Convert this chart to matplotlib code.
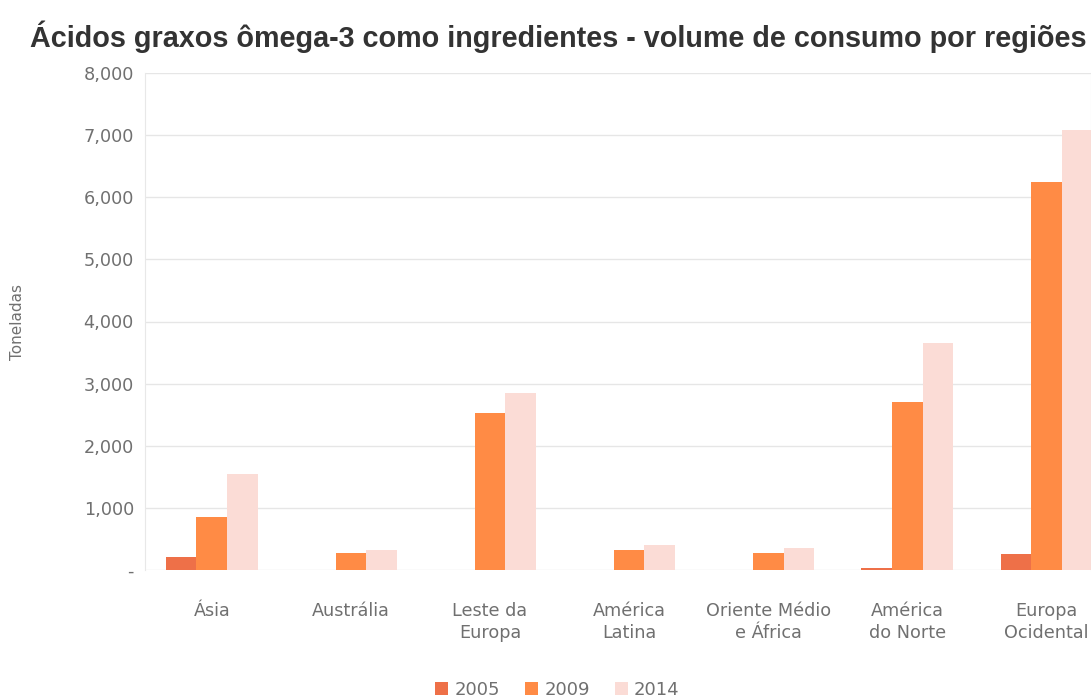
import matplotlib.pyplot as plt
import numpy as np
from matplotlib.ticker import FuncFormatter

regioes = ['Ásia', 'Austrália', 'Leste da\nEuropa', 'América\nLatina',
           'Oriente Médio\ne África', 'América\ndo Norte', 'Europa\nOcidental']
anos = ['2005', '2009', '2014']
v2005 = [210, 0, 0, 0, 0, 40, 250]
v2009 = [850, 270, 2530, 320, 280, 2700, 6240]
v2014 = [1545, 320, 2850, 400, 360, 3660, 7090]
yticks = [0, 1000, 2000, 3000, 4000, 5000, 6000, 7000, 8000]

cores = ['#EE7048', '#FF8B45', '#FBDCD6']
cinza = '#707070'

plt.rcParams['font.family'] = ['DejaVu Sans']

fig = plt.figure(figsize=(10.91, 7.0), dpi=100)
ax = fig.add_axes([145 / 1091, 1 - 570 / 700, (1091 - 145) / 1091, (570 - 73) / 700])

x = np.arange(len(regioes))
w = 0.22
for k, (serie, cor, ano) in enumerate(zip([v2005, v2009, v2014], cores, anos)):
    ax.bar(x + (k - 1) * w, serie, w, color=cor, label=ano, zorder=2)

ax.set_xlim(-0.48, 6.32)
ax.set_ylim(0, 8000)
ax.set_yticks(yticks)
ax.yaxis.set_major_formatter(FuncFormatter(lambda v, p: '-' if v == 0 else f'{int(v):,}'))
ax.set_xticks(x)
ax.set_xticklabels(regioes, linespacing=1.3)
ax.tick_params(axis='both', length=0, colors=cinza, labelsize=12.7)
ax.tick_params(axis='x', pad=23)
ax.tick_params(axis='y', pad=8)

ax.grid(axis='y', color='#e6e6e6', linewidth=1, zorder=0)
for s in ['top', 'bottom']:
    ax.spines[s].set_visible(False)
for s in ['left', 'right']:
    ax.spines[s].set_color('#e8e8e8')

ax.set_ylabel('Toneladas', color=cinza, fontsize=11, labelpad=42)

fig.text(30 / 1091, 1 - 37 / 700, 'Ácidos graxos ômega-3 como ingredientes - volume de consumo por regiões',
         fontsize=20.7, fontweight='bold', color='#333333', va='center', ha='left',
         family='Liberation Sans')

leg = fig.legend(loc='center', bbox_to_anchor=(0.511, 1 - 690 / 700), ncol=3, frameon=False,
                 fontsize=13, handlelength=0.7, handleheight=0.7, handletextpad=0.35,
                 columnspacing=1.4)
for t in leg.get_texts():
    t.set_color(cinza)

fig.savefig('out.png', dpi=100)
